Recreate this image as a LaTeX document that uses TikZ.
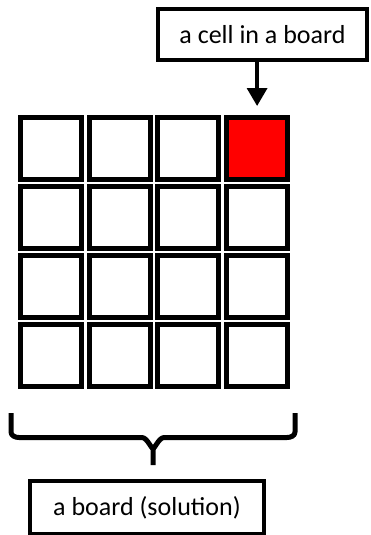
\documentclass[tikz,border=0pt]{standalone}
\usepackage{fontspec}
\setmainfont{Carlito}
\usetikzlibrary{arrows.meta}
\begin{document}
\begin{tikzpicture}[x=1pt,y=-1pt,
  cell/.style={draw=black,line width=5pt,fill=white,inner sep=0pt,minimum width=61pt,minimum height=62pt},
  label box/.style={draw=black,line width=4pt,fill=white,inner sep=0pt,font=\fontsize{26}{30}\selectfont},
  arr/.style={line width=3.5pt,-{Triangle[width=20pt,length=18pt]}}]
\useasboundingbox (0,0) rectangle (371,535);
\foreach \r [count=\i] in {148.5,217.5,286.5,355.5}{
  \foreach \c [count=\j] in {51,119.7,188.4,257.1}{
    \node[cell] (c\i\j) at (\c,\r) {};
  }
}
\node[cell,fill=red] at (c14) {};
\node[label box,minimum width=209pt,minimum height=51pt] (top) at (262.5,34.5) {a cell in a board};
\node[label box,minimum width=234pt,minimum height=53pt] (bot) at (147,507.5) {a board (solution)};
\draw[arr,shorten >=9pt] (top.south -| c14) -- (c14.north);
\draw[line width=5pt,line join=round]
  (11,413) -- (11,432) to[out=270,in=180] (19,437.5) -- (142,437.5)
  to[out=0,in=270] (153,447) -- (153,465);
\draw[line width=5pt,line join=round]
  (295,413) -- (295,432) to[out=270,in=0] (287,437.5) -- (164,437.5)
  to[out=180,in=270] (153,447);
\end{tikzpicture}
\end{document}
